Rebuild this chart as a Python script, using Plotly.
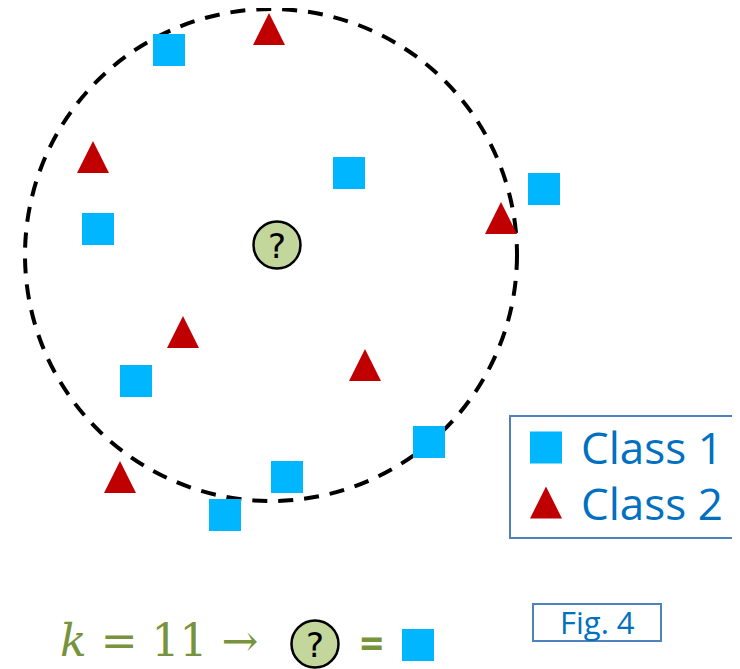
import plotly.graph_objects as go

# ---- data (pixel-like coordinate space, y grows downward) ----
class1_x = [169, 349, 98, 544, 136, 429, 287, 225]
class1_y = [50, 173, 229, 189, 381, 442, 477, 515]
class2_x = [269, 93, 501, 183, 365, 120]
class2_y = [29, 157, 218, 332, 365, 477]
query_x = [277]
query_y = [245]
radius_cx, radius_cy, radius_r = 271, 255, 246
legend_labels = ["Class 1", "Class 2"]
k_value = 11

BLUE = "#00b6ff"
RED = "#c00000"
QFILL = "#c3d69b"
TXT_BLUE = "#0070c0"
BOX_BLUE = "#4f81bd"
GREEN = "#77933c"
FONT = "Open Sans, Noto Sans, sans-serif"
TRI = 16  # half width / half height of triangle marks, in axis units

# the page body has an 8px margin, so the axes start at 8
OFF = 8
W, H = 740, 669


def tri_path(xs, ys, h=TRI):
    px, py = [], []
    for x, y in zip(xs, ys):
        px += [x - h, x + h, x, x - h, None]
        py += [y + h, y + h, y - h, y + h, None]
    return px, py


fig = go.Figure()

# dashed neighbourhood circle
fig.add_shape(type="circle", xref="x", yref="y",
              x0=radius_cx - radius_r, x1=radius_cx + radius_r,
              y0=radius_cy - radius_r, y1=radius_cy + radius_r,
              line=dict(color="black", width=4, dash="15px,11px"), layer="below")

fig.add_trace(go.Scatter(x=class1_x, y=class1_y, mode="markers", name=legend_labels[0],
                         marker=dict(symbol="square", size=32, color=BLUE, line=dict(width=0)),
                         showlegend=False, hoverinfo="skip"))
tx, ty = tri_path(class2_x, class2_y)
fig.add_trace(go.Scatter(x=tx, y=ty, mode="lines", fill="toself", name=legend_labels[1],
                         fillcolor=RED, line=dict(width=0, color=RED),
                         showlegend=False, hoverinfo="skip"))

# query point
fig.add_trace(go.Scatter(x=query_x, y=query_y, mode="markers",
                         marker=dict(symbol="circle", size=47, color=QFILL,
                                     line=dict(color="black", width=2.5)),
                         showlegend=False, hoverinfo="skip"))
fig.add_annotation(x=query_x[0], y=query_y[0] + 1, text="?", showarrow=False,
                   xanchor="center", yanchor="middle",
                   font=dict(size=34, color="black", family="DejaVu Sans, sans-serif"))

# ---- custom legend ----
fig.add_shape(type="rect", xref="x", yref="y", x0=510, x1=760, y0=416, y1=538,
              line=dict(color=BOX_BLUE, width=2), fillcolor="white", layer="below")
fig.add_trace(go.Scatter(x=[546], y=[447.5], mode="markers",
                         marker=dict(symbol="square", size=32, color=BLUE),
                         showlegend=False, hoverinfo="skip"))
lx, ly = tri_path([546], [502.5])
fig.add_trace(go.Scatter(x=lx, y=ly, mode="lines", fill="toself",
                         fillcolor=RED, line=dict(width=0, color=RED),
                         showlegend=False, hoverinfo="skip"))
for lbl, yy in zip(legend_labels, [447, 503]):
    fig.add_annotation(x=579, y=yy, xref="x", yref="y", text=lbl, showarrow=False,
                       xanchor="left", yanchor="middle",
                       font=dict(size=44, color=TXT_BLUE, family=FONT))

# ---- bottom formula ----
fig.add_annotation(x=58, y=640, xref="x", yref="y",
                   text=f"<i>k</i> = {k_value} →", showarrow=False,
                   xanchor="left", yanchor="middle",
                   font=dict(size=44, color=GREEN, family="DejaVu Serif, Liberation Serif, serif"))
fig.add_trace(go.Scatter(x=[315], y=[644], mode="markers",
                         marker=dict(symbol="circle", size=47, color=QFILL,
                                     line=dict(color="black", width=2.5)),
                         showlegend=False, hoverinfo="skip"))
fig.add_annotation(x=315, y=645, text="?", showarrow=False,
                   xanchor="center", yanchor="middle",
                   font=dict(size=34, color="black", family="DejaVu Sans, sans-serif"))
fig.add_annotation(x=371, y=642, xref="x", yref="y", text="<b>=</b>", showarrow=False,
                   xanchor="center", yanchor="middle",
                   font=dict(size=41, color=GREEN, family=FONT))
fig.add_trace(go.Scatter(x=[418], y=[645], mode="markers",
                         marker=dict(symbol="square", size=32, color=BLUE),
                         showlegend=False, hoverinfo="skip"))

# ---- Fig. 4 box ----
fig.add_shape(type="rect", xref="x", yref="y", x0=533, x1=661, y0=604, y1=641,
              line=dict(color=BOX_BLUE, width=2), fillcolor="white", layer="below")
fig.add_annotation(x=597, y=622, xref="x", yref="y", text="Fig. 4", showarrow=False,
                   xanchor="center", yanchor="middle",
                   font=dict(size=31, color=TXT_BLUE, family=FONT))

fig.update_layout(width=W - OFF, height=H - OFF, margin=dict(l=0, r=0, t=0, b=0),
                  paper_bgcolor="white", plot_bgcolor="white", showlegend=False)
fig.update_xaxes(range=[OFF, W], visible=False, fixedrange=True)
fig.update_yaxes(range=[H, OFF], visible=False, fixedrange=True)

fig.write_html("out.html", config={"displayModeBar": False})
